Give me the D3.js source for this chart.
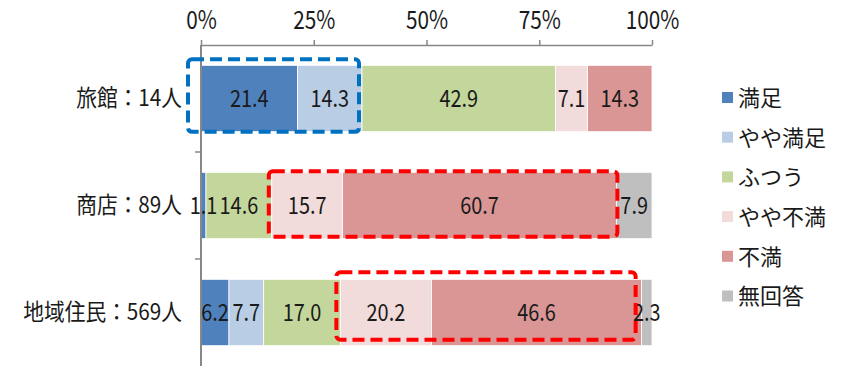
<!DOCTYPE html>
<html>
<head>
<meta charset="utf-8">
<script src="https://cdn.jsdelivr.net/npm/d3@7"></script>
<style>
  body { margin: 0; background: #fff; }
  text { font-family: "Noto Sans CJK JP", "Noto Sans", sans-serif; fill: #1a1a1a; }
</style>
</head>
<body>
<script>
// categories and series
const categories = ["旅館：14人", "商店：89人", "地域住民：569人"];
const seriesNames = ["満足", "やや満足", "ふつう", "やや不満", "不満", "無回答"];
const seriesColors = ["#4F81BD", "#B9CDE5", "#C3D69B", "#F2DCDB", "#D99694", "#BFBFBF"];

// percentages per series, one value per category
const manzoku   = [21.4, 1.1, 6.2];
const yayaMan   = [14.3, 0.0, 7.7];
const futsuu    = [42.9, 14.6, 17.0];
const yayaFuman = [7.1, 15.7, 20.2];
const fuman     = [14.3, 60.7, 46.6];
const mukaitou  = [0.0, 7.9, 2.3];

const tickValues = [0, 25, 50, 75, 100];

// highlighted groups: category index, first and last series index, colour
const highlights = [
  { cat: 0, from: 0, to: 1, color: "#0070C0" },
  { cat: 1, from: 3, to: 4, color: "#FF0000" },
  { cat: 2, from: 3, to: 4, color: "#FF0000" }
];

const svgWidth = 842, svgHeight = 366;
const margin = { top: 45, left: 201, right: 190, bottom: 0 };
// the original font is narrow, squeeze the numbers a bit
const narrow = 0.83;

const svg = d3.select("body").append("svg")
  .attr("width", svgWidth)
  .attr("height", svgHeight);

const xScale = d3.scaleLinear()
  .domain([0, 100])
  .range([margin.left, svgWidth - margin.right]);

const yScale = d3.scaleBand()
  .domain(categories)
  .range([margin.top, svgHeight])
  .paddingInner(0.38)
  .paddingOuter(0.19);

const allSeries = [manzoku, yayaMan, futsuu, yayaFuman, fuman, mukaitou];
const rows = categories.map((c, i) => {
  const r = { cat: c };
  seriesNames.forEach((s, j) => r[s] = allSeries[j][i]);
  return r;
});
const stacked = d3.stack().keys(seriesNames)(rows);

// bars
const layers = svg.append("g").selectAll("g")
  .data(stacked)
  .enter().append("g")
  .attr("fill", (d, i) => seriesColors[i]);

layers.selectAll("rect")
  .data(d => d)
  .enter().append("rect")
  .attr("x", d => xScale(d[0]))
  .attr("y", d => yScale(d.data.cat))
  .attr("width", d => xScale(d[1]) - xScale(d[0]))
  .attr("height", yScale.bandwidth())
  .attr("stroke", "#fff")
  .attr("stroke-width", 0.8);

// axes
const xAxis = svg.append("g")
  .attr("transform", `translate(0,${margin.top})`)
  .call(d3.axisTop(xScale).tickValues(tickValues).tickFormat(d => d + "%").tickSize(5).tickSizeOuter(0));
xAxis.select(".domain").attr("stroke", "#888").attr("stroke-width", 1.5);
xAxis.selectAll(".tick line").attr("stroke", "#888").attr("stroke-width", 1.5);
xAxis.selectAll("text")
  .attr("y", -16)
  .attr("transform", `scale(${narrow},1)`)
  .style("font-size", "25px")
  .style("fill", "#1a1a1a");

const yAxis = svg.append("g")
  .attr("transform", `translate(${margin.left},0)`)
  .call(d3.axisLeft(yScale).tickSize(0));
yAxis.select(".domain").attr("stroke", "#888").attr("stroke-width", 2)
  .attr("d", `M0,${margin.top}V${svgHeight}`);
yAxis.selectAll("text")
  .attr("x", 0)
  .attr("transform", "translate(-19,0) scale(0.9,1)")
  .style("font-size", "23px")
  .style("fill", "#1a1a1a");

// small category separators on the left of the axis
const step = yScale.step();
const sepY = categories.slice(1).map(c => yScale(c) - yScale.paddingInner() * step / 2);
svg.append("g").selectAll("line")
  .data(sepY)
  .enter().append("line")
  .attr("x1", margin.left - 6).attr("x2", margin.left)
  .attr("y1", d => d).attr("y2", d => d)
  .attr("stroke", "#888").attr("stroke-width", 1.5);

// data labels, drawn above all bars
const segs = stacked.flatMap(layer => layer.filter(v => v[1] - v[0] > 0));
svg.append("g").selectAll("text")
  .data(segs)
  .enter().append("text")
  .attr("transform", d => `translate(${(xScale(d[0]) + xScale(d[1])) / 2},${yScale(d.data.cat) + yScale.bandwidth() / 2}) scale(${narrow},1)`)
  .attr("dy", "0.36em")
  .attr("text-anchor", "middle")
  .style("font-size", "24px")
  .text(d => (d[1] - d[0]).toFixed(1));

// dashed highlight boxes
const boxPad = [
  { l: 13, r: -3, t: 6, b: 0 },
  { l: 3, r: 1, t: 1, b: -2 },
  { l: 4, r: -6, t: 7, b: -6 }
];
svg.append("g").selectAll("rect")
  .data(highlights)
  .enter().append("rect")
  .attr("x", (d, i) => xScale(stacked[d.from][d.cat][0]) - boxPad[i].l)
  .attr("y", (d, i) => yScale(categories[d.cat]) - boxPad[i].t)
  .attr("width", (d, i) => xScale(stacked[d.to][d.cat][1]) - xScale(stacked[d.from][d.cat][0]) + boxPad[i].l + boxPad[i].r)
  .attr("height", (d, i) => yScale.bandwidth() + boxPad[i].t + boxPad[i].b)
  .attr("rx", 4)
  .attr("fill", "none")
  .attr("stroke", d => d.color)
  .attr("stroke-width", 4)
  .attr("stroke-dasharray", "12,6");

// legend
const legend = svg.append("g")
  .attr("transform", "translate(722,92)");
const legendItems = legend.selectAll("g")
  .data(seriesNames)
  .enter().append("g")
  .attr("transform", (d, i) => `translate(0,${i * 39.7})`);
legendItems.append("rect")
  .attr("width", 11).attr("height", 11)
  .attr("fill", (d, i) => seriesColors[i]);
legendItems.append("text")
  .attr("x", 16).attr("y", 6)
  .attr("dy", "0.36em")
  .style("font-size", "22px")
  .text(d => d);
</script>
</body>
</html>
